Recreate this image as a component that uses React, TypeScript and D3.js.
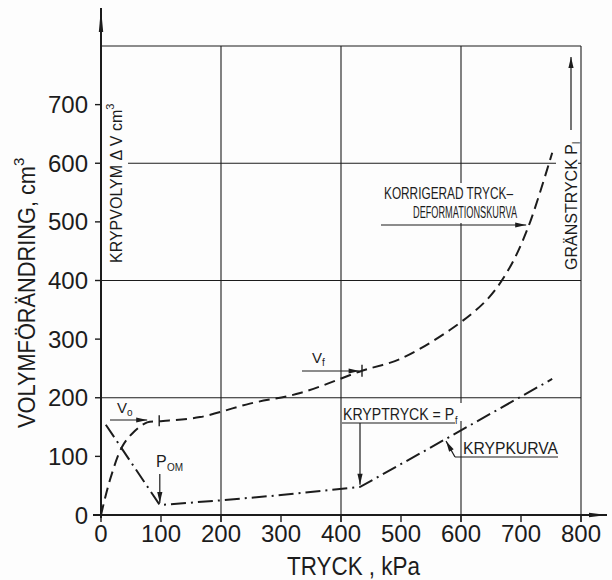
import React from "react";
import * as d3 from "d3";

// ticks and grid
const xTicks = [0, 100, 200, 300, 400, 500, 600, 700, 800];
const yTicks = [0, 100, 200, 300, 400, 500, 600, 700];
const gridX = [200, 400, 600, 800];
const gridY = [200, 400, 600, 800];

// corrected pressure-deformation curve (dashed)
const corrP = [0, 15, 35, 53, 77, 97, 165, 248, 332, 435, 498, 582, 643, 680, 712, 752];
const corrV = [0, 60, 116, 140, 158, 160, 167, 190, 208, 246, 266, 316, 367, 420, 491, 618];

// creep curve (dash-dot)
const creepP = [8, 98, 200, 300, 432, 537, 582, 752];
const creepV = [154, 17, 25, 34, 48, 108, 134, 232];

const FONT = '"Liberation Sans", Arial, sans-serif';
const INK = "#1c1c1c";

const App = () => {
  const ref = React.useRef<SVGSVGElement>(null);

  React.useEffect(() => {
    const svg = d3.select(ref.current);
    svg.selectAll("*").remove();

    const x = d3.scaleLinear().domain([0, 800]).range([101, 581]);
    const y = d3.scaleLinear().domain([0, 800]).range([515, 46]);

    svg.append("rect").attr("width", 612).attr("height", 580).attr("fill", "#fdfdfd");

    const arrow = (x1: number, y1: number, x2: number, y2: number, w = 1.2, len = 11, hw = 2.6) => {
      svg.append("line")
        .attr("x1", x1).attr("y1", y1).attr("x2", x2).attr("y2", y2)
        .attr("stroke", INK).attr("stroke-width", w);
      const a = Math.atan2(y2 - y1, x2 - x1);
      const bx = x2 - len * Math.cos(a), by = y2 - len * Math.sin(a);
      const px = -Math.sin(a) * hw, py = Math.cos(a) * hw;
      svg.append("path")
        .attr("d", `M${x2},${y2}L${bx + px},${by + py}L${bx - px},${by - py}Z`)
        .attr("fill", INK);
    };

    const line = (x1: number, y1: number, x2: number, y2: number, w = 1.2) =>
      svg.append("line")
        .attr("x1", x1).attr("y1", y1).attr("x2", x2).attr("y2", y2)
        .attr("stroke", INK).attr("stroke-width", w);

    // grid
    gridX.forEach(v => line(x(v), y(800), x(v), y(0) + 7, 1.1));
    gridY.forEach(v => line(v === 600 ? 128 : x(0), y(v), x(800), y(v), 1.1));

    // ticks
    xTicks.forEach(v => line(x(v), y(0), x(v), y(0) + 7, 1.4));
    yTicks.forEach(v => line(x(0) - 6, y(v), x(0), y(v), 1.4));

    // tick labels
    svg.append("g").selectAll("text").data(xTicks).join("text")
      .attr("x", d => x(d)).attr("y", 542)
      .attr("text-anchor", "middle")
      .attr("font-family", FONT).attr("font-size", 24).attr("fill", INK)
      .text(d => d);
    svg.append("g").selectAll("text").data(yTicks).join("text")
      .attr("x", 88).attr("y", d => y(d) + 8.5)
      .attr("text-anchor", "end")
      .attr("font-family", FONT).attr("font-size", 24).attr("fill", INK)
      .text(d => d);

    // white backgrounds behind in-plot labels
    const bg = (bx: number, by: number, bw: number, bh: number) =>
      svg.append("rect").attr("x", bx).attr("y", by).attr("width", bw).attr("height", bh).attr("fill", "#fdfdfd");
    bg(380, 183, 140, 40);
    bg(556, 52, 22, 222);
    bg(440, 403, 30, 18);

    // axes
    arrow(x(0), y(0) + 3, x(0), 8, 2, 24, 2.2);
    arrow(93, y(0), 607, y(0), 2, 18, 2.2);

    // curves
    const corr = corrP.map((p, i) => [x(p), y(corrV[i])] as [number, number]);
    svg.append("path")
      .attr("d", d3.line().curve(d3.curveCatmullRom.alpha(0.5))(corr))
      .attr("fill", "none").attr("stroke", INK).attr("stroke-width", 2)
      .attr("stroke-dasharray", "11 6");

    const creep = creepP.map((p, i) => [x(p), y(creepV[i])] as [number, number]);
    svg.append("path")
      .attr("d", d3.line()(creep))
      .attr("fill", "none").attr("stroke", INK).attr("stroke-width", 2)
      .attr("stroke-dasharray", "15 5 2 5");

    const txt = (tx: number, ty: number, s: string, size: number, len?: number) => {
      const t = svg.append("text").attr("x", tx).attr("y", ty)
        .attr("font-family", FONT).attr("font-size", size).attr("fill", INK).text(s);
      if (len) t.attr("textLength", len).attr("lengthAdjust", "spacingAndGlyphs");
      return t;
    };

    // V0
    txt(117, 413, "V", 15);
    txt(127, 416, "o", 10);
    arrow(110, 420, x(77), 420);
    line(x(97), y(160) - 6, x(97), y(160) + 5, 1.4);

    // Vf
    txt(312, 363, "V", 15);
    txt(322, 366, "f", 10);
    arrow(302, 371, x(431), 371);
    line(x(435), y(246) - 6, x(435), y(246) + 6, 1.4);

    // POM
    txt(156, 467, "P", 16);
    txt(167, 471, "OM", 10);
    arrow(x(98), 474, x(98), y(17) - 2);

    // KRYPTRYCK = Pf, squeezed horizontally
    const kt = svg.append("text")
      .attr("transform", "translate(343,420) scale(0.83,1)")
      .attr("font-family", FONT).attr("fill", INK);
    kt.append("tspan").attr("font-size", 17).text("KRYPTRYCK = P");
    kt.append("tspan").attr("font-size", 11).attr("dx", 1).attr("dy", 4).text("f");
    line(342, 423, 455, 423);
    arrow(360, 423, 360, y(48) - 2);

    // KRYPKURVA
    txt(463, 454, "KRYPKURVA", 17, 95);
    line(455, 457, 558, 457);
    arrow(455, 457, 446, 441);

    // corrected curve label
    txt(384, 199, "KORRIGERAD TRYCK–", 16, 129);
    txt(413, 218, "DEFORMATIONSKURVA", 16, 104);
    arrow(381, 225, x(712) - 2, 225);

    // KRYPVOLYM
    const kv = svg.append("text")
      .attr("transform", "translate(122,263) rotate(-90)")
      .attr("font-family", FONT).attr("fill", INK);
    kv.append("tspan").attr("font-size", 16).text("KRYPVOLYM  Δ V cm");
    kv.append("tspan").attr("font-size", 11).attr("dy", -8).text("3");

    // GRÄNSTRYCK Pl
    const gt = svg.append("text")
      .attr("transform", "translate(577,270) rotate(-90)")
      .attr("font-family", FONT).attr("fill", INK);
    gt.append("tspan").attr("font-size", 16).text("GRÄNSTRYCK  P");
    gt.append("tspan").attr("font-size", 10).attr("dy", 3).text("l");
    arrow(571, 130, 571, 57);

    // axis titles
    txt(287, 575, "TRYCK , kPa", 25, 133);
    const yt = svg.append("text")
      .attr("transform", "translate(35,428) rotate(-90)")
      .attr("font-family", FONT).attr("fill", INK);
    yt.append("tspan").attr("font-size", 24).attr("textLength", 262).attr("lengthAdjust", "spacingAndGlyphs").text("VOLYMFÖRÄNDRING, cm");
    yt.append("tspan").attr("font-size", 15).attr("dy", -11).text("3");
  }, []);

  return (
    <svg ref={ref} width={612} height={580}
      style={{ position: "absolute", left: 0, top: 0 }} />
  );
};

export default App;
